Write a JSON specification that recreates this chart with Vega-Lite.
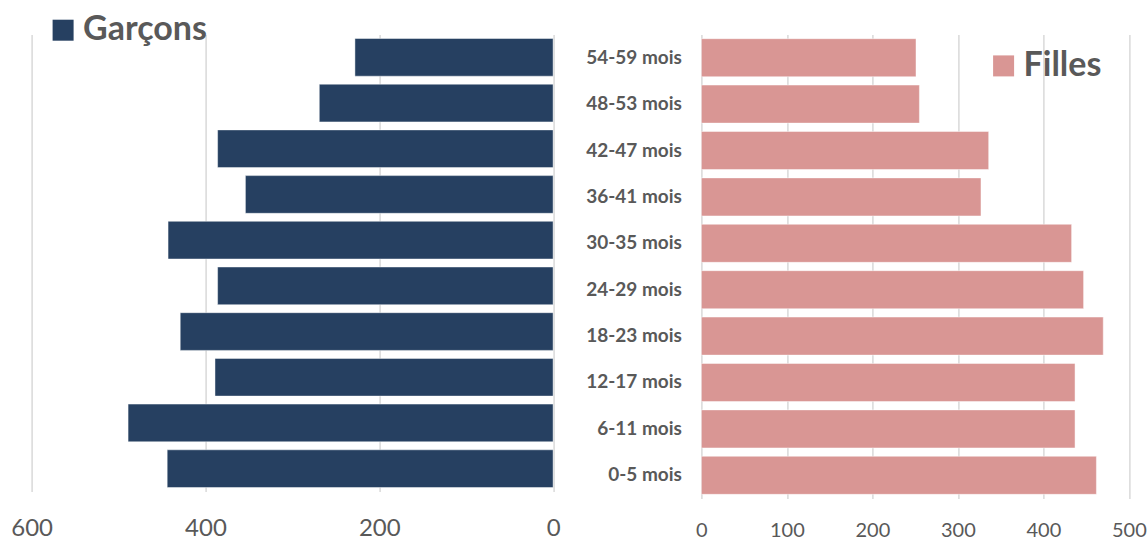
{
  "$schema": "https://vega.github.io/schema/vega-lite/v6.json",
  "autosize": {"type": "pad"},
  "padding": {"left": 10.6, "top": 12.5, "right": 0, "bottom": 0},
  "background": "#ffffff",
  "bounds": "flush",
  "spacing": 147.8,
  "config": {
    "view": {"stroke": null},
    "font": "Lato",
    "axis": {
      "domain": false,
      "ticks": false,
      "labelFlush": false,
      "labelOverlap": false,
      "gridColor": "#D9D9D9",
      "gridWidth": 1.5,
      "labelColor": "#595959",
      "labelFont": "Lato",
      "title": null
    },
    "legend": {
      "padding": 0,
      "symbolType": "square",
      "symbolSize": 441,
      "symbolStrokeWidth": 0,
      "labelFont": "Lato",
      "labelFontSize": 34,
      "labelFontWeight": "bold",
      "labelColor": "#595959",
      "labelOffset": 3,
      "title": null
    }
  },
  "data": {
    "values": [
      {"age": "54-59 mois", "sexe": "Garçons", "effectif": 228},
      {"age": "48-53 mois", "sexe": "Garçons", "effectif": 269},
      {"age": "42-47 mois", "sexe": "Garçons", "effectif": 386},
      {"age": "36-41 mois", "sexe": "Garçons", "effectif": 354},
      {"age": "30-35 mois", "sexe": "Garçons", "effectif": 443},
      {"age": "24-29 mois", "sexe": "Garçons", "effectif": 386},
      {"age": "18-23 mois", "sexe": "Garçons", "effectif": 429},
      {"age": "12-17 mois", "sexe": "Garçons", "effectif": 389},
      {"age": "6-11 mois", "sexe": "Garçons", "effectif": 489},
      {"age": "0-5 mois", "sexe": "Garçons", "effectif": 444},
      {"age": "54-59 mois", "sexe": "Filles", "effectif": 251},
      {"age": "48-53 mois", "sexe": "Filles", "effectif": 255},
      {"age": "42-47 mois", "sexe": "Filles", "effectif": 336},
      {"age": "36-41 mois", "sexe": "Filles", "effectif": 327},
      {"age": "30-35 mois", "sexe": "Filles", "effectif": 433},
      {"age": "24-29 mois", "sexe": "Filles", "effectif": 447},
      {"age": "18-23 mois", "sexe": "Filles", "effectif": 470},
      {"age": "12-17 mois", "sexe": "Filles", "effectif": 437},
      {"age": "6-11 mois", "sexe": "Filles", "effectif": 437},
      {"age": "0-5 mois", "sexe": "Filles", "effectif": 462}
    ]
  },
  "hconcat": [
    {
      "width": 521.5,
      "height": 457,
      "transform": [{"filter": "datum.sexe === 'Garçons'"}],
      "mark": {"type": "bar", "stroke": "#ffffff", "strokeOpacity": 0.45, "strokeWidth": 1},
      "encoding": {
        "y": {
          "field": "age",
          "type": "nominal",
          "sort": ["54-59 mois", "48-53 mois", "42-47 mois", "36-41 mois", "30-35 mois", "24-29 mois", "18-23 mois", "12-17 mois", "6-11 mois", "0-5 mois"],
          "scale": {"paddingInner": 0.175, "paddingOuter": 0.0875},
          "axis": null
        },
        "x": {
          "field": "effectif",
          "type": "quantitative",
          "scale": {"domain": [0, 600], "reverse": true, "nice": false},
          "axis": {"values": [0, 200, 400, 600], "grid": true, "labelFontSize": 24, "labelPadding": 25}
        },
        "color": {
          "field": "sexe",
          "type": "nominal",
          "scale": {"domain": ["Garçons"], "range": ["#264061"]},
          "legend": {"orient": "none", "legendX": 14.5, "legendY": -21.3}
        }
      }
    },
    {
      "width": 427.5,
      "height": 464,
      "transform": [{"filter": "datum.sexe === 'Filles'"}],
      "mark": {"type": "bar", "stroke": "#ffffff", "strokeOpacity": 0.45, "strokeWidth": 1},
      "encoding": {
        "y": {
          "field": "age",
          "type": "nominal",
          "sort": ["54-59 mois", "48-53 mois", "42-47 mois", "36-41 mois", "30-35 mois", "24-29 mois", "18-23 mois", "12-17 mois", "6-11 mois", "0-5 mois"],
          "scale": {"paddingInner": 0.18, "paddingOuter": 0.09},
          "axis": {"labelFontSize": 19, "labelFontWeight": "bold", "labelPadding": 20, "grid": false}
        },
        "x": {
          "field": "effectif",
          "type": "quantitative",
          "scale": {"domain": [0, 500], "nice": false},
          "axis": {"values": [0, 100, 200, 300, 400, 500], "grid": true, "labelFontSize": 20, "labelPadding": 22}
        },
        "color": {
          "field": "sexe",
          "type": "nominal",
          "scale": {"domain": ["Filles"], "range": ["#D99694"]},
          "legend": {"orient": "none", "legendX": 285.2, "legendY": 14.4}
        }
      }
    }
  ],
  "resolve": {"scale": {"color": "independent", "x": "independent", "y": "independent"}}
}
